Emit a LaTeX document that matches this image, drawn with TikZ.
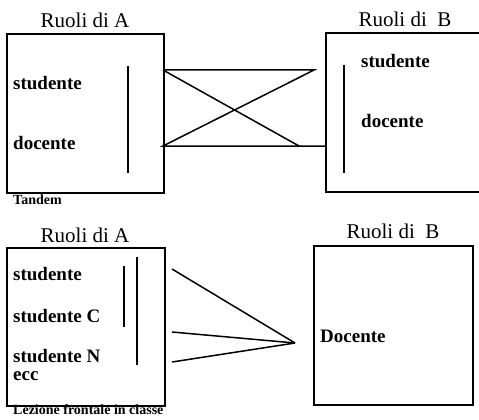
\documentclass[tikz,border=0pt]{standalone}
\usepackage{fontspec}
\setmainfont{Liberation Serif}
\begin{document}
\begin{tikzpicture}[x=1pt,y=-1pt,
  box/.style={draw, line width=1.6pt, inner sep=0pt, anchor=north west},
  conn/.style={line width=1.5pt},
  lbl/.style={anchor=base west, inner sep=0pt, font=\fontsize{19}{19}\selectfont\bfseries},
  ttl/.style={anchor=base, inner sep=0pt, font=\fontsize{21}{21}\selectfont},
  smalllbl/.style={anchor=base west, inner sep=0pt, font=\fontsize{14}{14}\selectfont\bfseries}]
\useasboundingbox (0,0) rectangle (479,420);

% ---------- Tandem ----------
\node[box, minimum width=157pt, minimum height=159pt] (A1) at (6,33) {};
\coordinate (B1tr) at (480,33);
\coordinate (B1tl) at (326,33);
\coordinate (B1bl) at (326,192);
\coordinate (B1br) at (480,192);
\draw[line width=1.6pt] (B1tr) -- (B1tl) -- (B1bl) -- (B1br);

\node[ttl] (tA1) at (85,28) {Ruoli di A};
\node[ttl] (tB1) at (405,27) {Ruoli di\ \ B};

\node[lbl] (s1) at (13,89) {studente};
\node[lbl] (d1) at (13,149) {docente};
\node[lbl] (s2) at (361,67) {studente};
\node[lbl] (d2) at (361,127) {docente};
\node[smalllbl] (tandem) at (13,204) {Tandem};

\coordinate (va1t) at (128,66);
\coordinate (va1b) at (128,173);
\draw[conn] (va1t) -- (va1b);
\coordinate (vb1t) at (344,65);
\coordinate (vb1b) at (344,173);
\draw[conn] (vb1t) -- (vb1b);

\coordinate (a1t) at (163,70);
\coordinate (a1b) at (163,146);
\coordinate (b1t) at (314,70);
\coordinate (b1b) at (326,146);
\coordinate (xb) at (299,146);
\draw[conn] (a1t) -- (b1t) -- (a1b) -- (b1b);
\draw[conn] (a1t) -- (xb);

% ---------- Lezione frontale ----------
\node[box, minimum width=158pt, minimum height=158pt] (A2) at (6,247) {};
\node[box, minimum width=159pt, minimum height=159pt] (B2) at (313,245) {};

\node[ttl] (tA2) at (85,242) {Ruoli di A};
\node[ttl] (tB2) at (393,238) {Ruoli di\ \ B};

\node[lbl] (s3) at (13,280) {studente};
\node[lbl] (s4) at (13,322) {studente C};
\node[lbl] (s5) at (13,362) {studente N};
\node[lbl] (ecc) at (13,380) {ecc};
\node[lbl] (doc) at (320,342) {Docente};
\node[smalllbl] (lez) at (13,414) {Lezione frontale in classe};

\coordinate (v2at) at (124,266);
\coordinate (v2ab) at (124,327);
\coordinate (v2bt) at (137,257);
\coordinate (v2bb) at (137,365);
\draw[conn] (v2at) -- (v2ab);
\draw[conn] (v2bt) -- (v2bb);

\coordinate (f1) at (172,269);
\coordinate (f2) at (172,332);
\coordinate (f3) at (172,362);
\coordinate (fp) at (295,343);
\draw[conn] (f1) -- (fp);
\draw[conn] (f2) -- (fp);
\draw[conn] (f3) -- (fp);
\end{tikzpicture}
\end{document}
